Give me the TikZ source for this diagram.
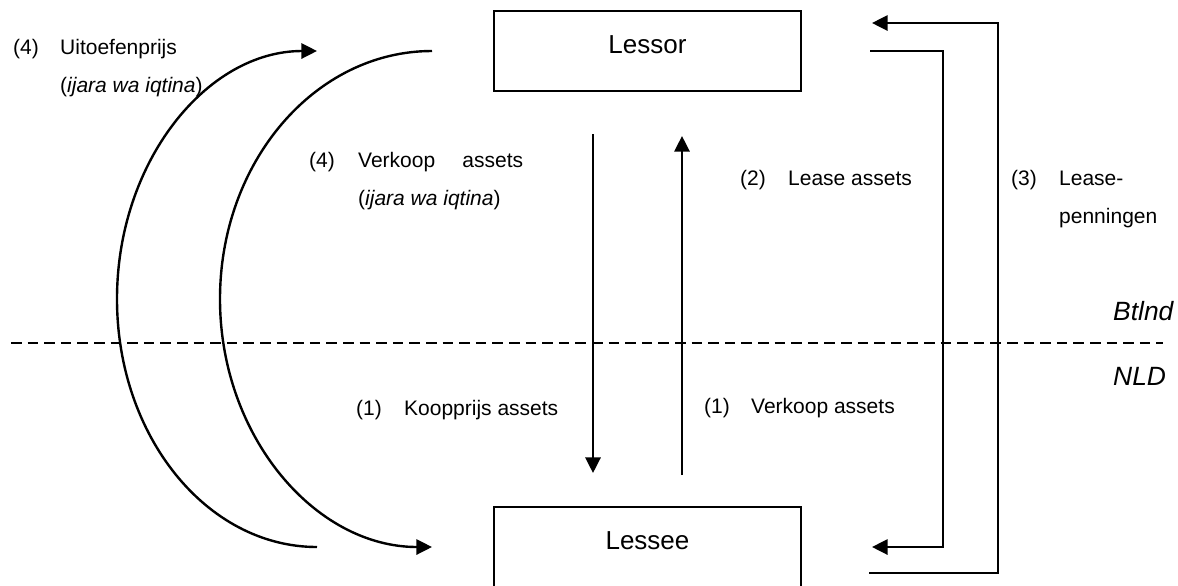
\documentclass[tikz,border=0pt]{standalone}
\usepackage{fontspec}
\setmainfont{Liberation Sans}
\usepackage{tikz}
\usetikzlibrary{arrows.meta}

\begin{document}
\begin{tikzpicture}[x=0.5pt, y=-0.5pt, >={Triangle[length=7.8pt, width=7.6pt]}, line width=1.2pt, node distance=248pt]
\tikzstyle{party}=[draw=black, line width=1pt, inner sep=0pt, minimum width=153.5pt, text height=21pt, text depth=19pt, font=\fontsize{13}{15}\selectfont]
\tikzstyle{lbl}=[inner sep=0pt, anchor=base west, font=\fontsize{10.5}{19}\selectfont]
\tikzstyle{land}=[inner sep=0pt, anchor=base west, font=\fontsize{13.2}{15}\selectfont\itshape]

\useasboundingbox (0,0) rectangle (1178,585);

\node[party] (lessor) at (647.5,51) {Lessor};
\node[party] (lessee) [below of=lessor] {Lessee};

\draw[->, shorten <=21pt, shorten >=16.5pt] ([xshift=-27.25pt]lessor.south) -- ([xshift=-27.25pt]lessee.north);
\draw[->, shorten <=15.5pt, shorten >=22pt] ([xshift=17.25pt]lessee.north) -- ([xshift=17.25pt]lessor.south);

\draw[->] ([xshift=34pt]lessor.east) -- ++(73,0) |- ([xshift=35pt]lessee.east);
\draw[->] ([xshift=33.5pt, yshift=-13pt]lessee.east) -- ++(129,0) |- ([xshift=35pt, yshift=14pt]lessor.east);

\coordinate (back top) at ([xshift=-30.5pt]lessor.west);
\coordinate (pay low) at ([xshift=-88pt]lessee.west);
\draw[->] (back top) arc[start angle=90, end angle=270, x radius=106pt, y radius=124pt];
\draw[->] (pay low) arc[start angle=270, end angle=90, x radius=100pt, y radius=124pt];

\draw[dash pattern=on 5.3pt off 3pt, line width=0.9pt] (11,343) -- (1163,343);

\node[lbl] (exercise) at (12,54) {\begin{tabular}[t]{@{}p{23.5pt}@{}l@{}}(4) & Uitoefenprijs\\ & (\textit{ijara wa iqtina})\end{tabular}};
\node[lbl] (resale) at (308,167) {\begin{tabular}[t]{@{}p{24.5pt}@{}l@{}}(4) & \makebox[82.5pt][s]{Verkoop assets}\\ & (\textit{ijara wa iqtina})\end{tabular}};
\node[lbl] (leasing) at (739,185) {\begin{tabular}[t]{@{}p{24pt}@{}l@{}}(2) & Lease assets\end{tabular}};
\node[lbl] (rent) at (1010,185) {\begin{tabular}[t]{@{}p{24pt}@{}l@{}}(3) & Lease-\\ & penningen\end{tabular}};
\node[lbl] (price) at (355,415) {\begin{tabular}[t]{@{}p{24pt}@{}l@{}}(1) & Koopprijs assets\end{tabular}};
\node[lbl] (sale) at (703,413) {\begin{tabular}[t]{@{}p{23.5pt}@{}l@{}}(1) & Verkoop assets\end{tabular}};
\node[land] (btlnd) at (1112,320) {Btlnd};
\node[land] (nld) at (1112,385) {NLD};
\end{tikzpicture}
\end{document}
